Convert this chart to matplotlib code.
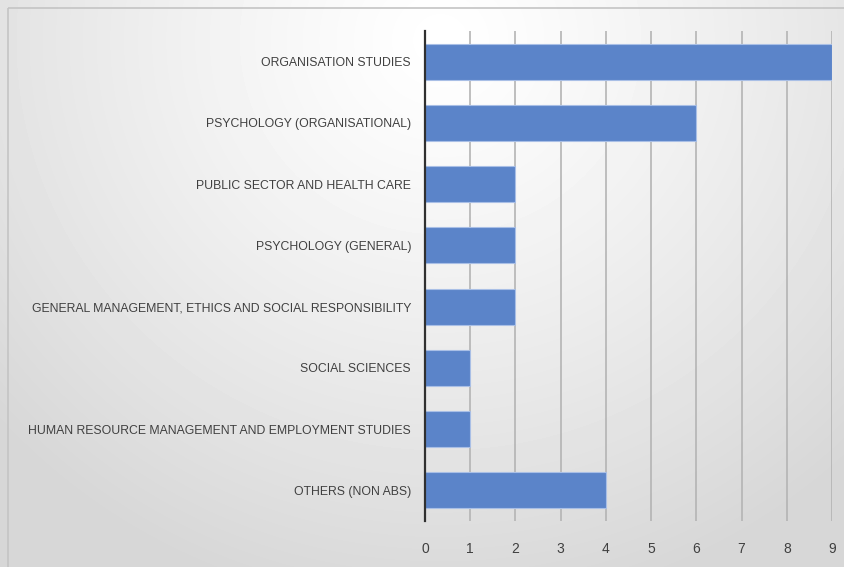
"""Horizontal bar chart of journal field counts."""

import numpy as np
import matplotlib.pyplot as plt
from matplotlib.patches import Rectangle

plt.rcParams["font.family"] = ["Liberation Sans", "DejaVu Sans"]

fields = [
    "ORGANISATION STUDIES",
    "PSYCHOLOGY (ORGANISATIONAL)",
    "PUBLIC SECTOR AND HEALTH CARE",
    "PSYCHOLOGY (GENERAL)",
    "GENERAL MANAGEMENT, ETHICS AND SOCIAL RESPONSIBILITY",
    "SOCIAL SCIENCES",
    "HUMAN RESOURCE MANAGEMENT AND EMPLOYMENT STUDIES",
    "OTHERS (NON ABS)",
]
counts = [9, 6, 2, 2, 2, 1, 1, 4]
ticks = list(range(0, 10))

W, H = 845, 567
fig = plt.figure(figsize=(W / 100, H / 100), dpi=100)

# soft grey gradient behind everything
bg = fig.add_axes([0, 0, 1, 1], zorder=-2)
yy, xx = np.mgrid[0:H, 0:W]
r = np.sqrt(((xx - 440) / 600.0) ** 2 + ((yy - 40) / 580.0) ** 2)
shade = 1.0 - 0.16 * np.clip(r, 0, 1) ** 1.2
bg.imshow(shade, cmap="gray", vmin=0, vmax=1, aspect="auto",
          extent=[0, W, H, 0], interpolation="bilinear")
bg.add_patch(Rectangle((8, 8), W, H, fill=False, edgecolor="#c4c4c4",
                       linewidth=1.2))
bg.set_xlim(0, W)
bg.set_ylim(H, 0)
bg.axis("off")

ax = fig.add_axes([425 / W, 1 - 521 / H, (832 - 425) / W, (521 - 31) / H])
ax.patch.set_alpha(0)
y = np.arange(len(fields))
ax.barh(y, counts, height=0.59, color="#5b84c9", edgecolor="#a9bfe6",
        linewidth=0.8, zorder=3)
ax.set_ylim(len(fields) - 0.5, -0.5)
ax.set_xlim(0, 9)
ax.set_xticks(ticks)
ax.set_yticks(y)
ax.set_yticklabels(fields, fontsize=8.8, color="#404040")
ax.tick_params(axis="x", length=0, pad=15, labelsize=10, labelcolor="#404040")
ax.tick_params(axis="y", length=0, pad=10)
ax.grid(axis="x", color="#b4b4b4", linewidth=1.2, zorder=0)
for side in ["top", "right", "bottom"]:
    ax.spines[side].set_visible(False)
ax.spines["left"].set_color("#303030")
ax.spines["left"].set_linewidth(1.6)
ax.spines["left"].set_zorder(4)

fig.savefig("out.png", dpi=100)
